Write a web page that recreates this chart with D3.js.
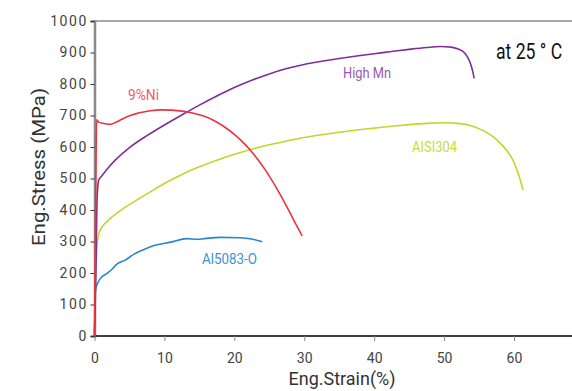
<!DOCTYPE html>
<html><head><meta charset="utf-8">
<script src="https://cdn.jsdelivr.net/npm/d3@7"></script>
<style>body{margin:0;background:#fff}svg{display:block}text{font-family:Roboto,"Liberation Sans",sans-serif}</style>
</head><body><svg id="c" width="572" height="391"></svg>
<script>
const xTicks = [0,10,20,30,40,50,60];
const yTicks = [0,100,200,300,400,500,600,700,800,900,1000];

const ni9 = [[0,0],[0.2,500],[0.3,686],[0.6,679],[1.5,674],[2.3,672],[3,678],[4,689],[5,699],[6,706],[7,711],[8,715],[9.4,718],[11,717],[12.5,714],[14,708],[15.5,699],[17,685],[18.5,665],[20,640],[21.5,609],[23,571],[24.5,525],[26,471],[27.5,411],[28.8,355],[29.7,318]];
const highMn = [[0,0],[0.2,200],[0.38,442],[0.6,495],[1,507],[2,535],[3,559],[5,598],[7.5,636],[10,670],[12.5,702],[15,733],[17.5,762],[20,789],[22.5,812],[25,832],[27.5,849],[30,862],[32.5,872],[35,881],[37.5,889],[40,896],[42.5,903],[45,910],[47.5,916],[49.5,919],[51,917],[52,911],[53,897],[53.7,870],[54.1,840],[54.3,818]];
const aisi304 = [[0,0],[0.1,150],[0.2,225],[0.35,285],[0.6,322],[1,343],[2,368],[3,387],[4,403],[5,417],[7.5,451],[10,484],[12.5,513],[15,537],[17.5,558],[20,577],[22.5,593],[25,607],[27.5,619],[30,630],[32.5,639],[35,647],[37.5,654],[40,660],[42.5,666],[45,671],[47.5,675],[50,677],[52,675],[54,667],[55.6,652],[57,633],[58,613],[59,588],[59.9,556],[60.7,510],[61.3,463]];
const al5083 = [[0,0],[0.1,130],[0.14,146],[0.5,170],[0.86,183],[1.8,199],[2.5,212],[3.2,228],[4.4,241],[5.6,259],[7,274],[8.5,287],[10.9,298],[13.2,309],[14.7,307],[16,310],[18,313],[20.9,312],[22.5,308],[24,299]];

const seriesNames = ["9%Ni","High Mn","AISI304","Al5083-O"];
const lineColors = ["#e8343f","#7d2f95","#c2d62a","#2b86c9"];
const labelColors = ["#ee5b6e","#9a57b4","#c7da3c","#3d93d3"];

const svg = d3.select("#c");
const x = d3.scaleLinear().domain([0, 68.3]).range([94.5, 572]);
const y = d3.scaleLinear().domain([0, 1000]).range([336, 21]);

// top border
svg.append("line").attr("x1",94).attr("x2",572).attr("y1",21).attr("y2",21).attr("stroke","#555").attr("stroke-width",1.2);

// y axis
const ya = svg.append("g").attr("transform","translate(94.5,0)")
  .call(d3.axisLeft(y).tickValues(yTicks).tickFormat(d3.format("d")).tickSize(4).tickPadding(4));
ya.select(".domain").attr("stroke","#8a8a8a").attr("stroke-width",2.5);
ya.selectAll(".tick line").attr("stroke","#333");
ya.selectAll("text").attr("font-size",14).attr("fill","#444").attr("letter-spacing","1.6px").attr("dx","1.5");

// x axis
const xa = svg.append("g").attr("transform","translate(0,336)")
  .call(d3.axisBottom(x).tickValues(xTicks).tickFormat(d3.format("d")).tickSize(5).tickPadding(12));
xa.select(".domain").attr("stroke","#000").attr("stroke-width",1.5).attr("d","M94,0H572");
xa.selectAll(".tick line").attr("stroke","#888");
xa.selectAll("text").attr("font-size",14).attr("fill","#444");

const line = d3.line().x(d=>x(d[0])).y(d=>y(d[1])).curve(d3.curveMonotoneX);
const allSeries = [aisi304, al5083, highMn, ni9];
const colIdx = [2,3,1,0];
allSeries.forEach((s,i)=>{
  svg.append("path").attr("d",line(s)).attr("fill","none")
    .attr("stroke",lineColors[colIdx[i]]).attr("stroke-width",1.6);
});

// series labels
const labelPos = [[128,100,31],[343,77.5,48],[412,151.5,45],[202,264,55]];
seriesNames.forEach((n,i)=>{
  svg.append("text").text(n).attr("x",labelPos[i][0]).attr("y",labelPos[i][1])
    .attr("font-size",15).attr("fill",labelColors[i])
    .attr("textLength",labelPos[i][2]).attr("lengthAdjust","spacingAndGlyphs");
});

// axis titles
svg.append("text").text("Eng.Strain(%)").attr("x",288.5).attr("y",385)
  .attr("font-size",19).attr("fill","#333").attr("textLength",107).attr("lengthAdjust","spacingAndGlyphs");
svg.append("text").text("Eng.Stress (MPa)").attr("transform","translate(45,246) rotate(-90)")
  .attr("font-size",19).attr("fill","#333").attr("textLength",158).attr("lengthAdjust","spacingAndGlyphs");

// temperature annotation (horizontally condensed via transform)
svg.append("text").text("at 25 ° C").attr("transform","translate(496,59.3) scale(0.8,1)")
  .attr("font-size",22).attr("fill","#111");
</script></body></html>
